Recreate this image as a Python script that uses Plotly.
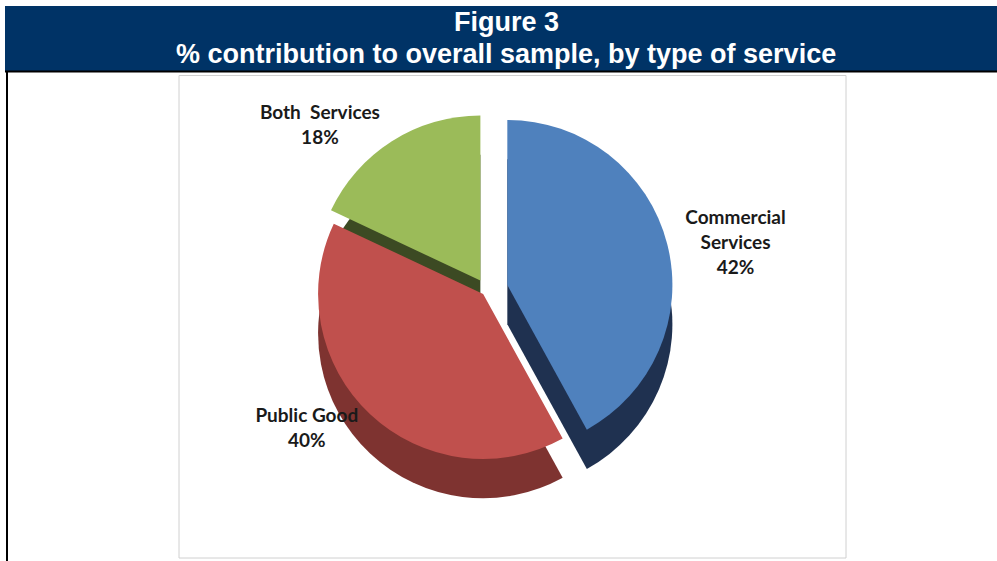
import plotly.graph_objects as go

# ---- data ----
categories = ["Commercial Services", "Public Good", "Both Services"]
label_text = ["Commercial<br>Services", "Public Good", "Both  Services"]
shares = [42, 40, 18]
top_colors = ["#4F81BD", "#C0504D", "#9BBB59"]
side_colors = ["#1F3150", "#7E3330", "#3C4A23"]
pulls = [0.13, 0.03, 0.07]

title_line1 = "Figure 3"
title_line2 = "% contribution to overall sample, by type of service"

W, H = 997, 561
depth = 0.07
dom_x = [0.188, 0.788]
dom_y = [0.15, 0.815]

fig = go.Figure()

fig.add_trace(go.Pie(
    labels=categories, values=shares, sort=False, direction="clockwise",
    rotation=0, pull=pulls, textinfo="none", hoverinfo="skip",
    marker=dict(colors=side_colors, line=dict(width=0)),
    domain=dict(x=dom_x, y=[dom_y[0] - depth, dom_y[1] - depth]),
    showlegend=False, automargin=False,
))

fig.add_trace(go.Pie(
    labels=categories, values=shares, text=label_text, sort=False,
    direction="clockwise", rotation=0, pull=pulls,
    texttemplate="%{text}<br>%{percent:.0%}", textposition="outside",
    outsidetextfont=dict(family="Lato, Open Sans, sans-serif", size=19,
                         color="#1a1a1a", weight="bold"),
    marker=dict(colors=top_colors, line=dict(width=0)),
    domain=dict(x=dom_x, y=dom_y),
    showlegend=False, automargin=False,
))

shapes = [
    dict(type="rect", xref="paper", yref="paper", x0=5 / W, x1=1,
         y0=1 - 71 / H, y1=1 - 6 / H, fillcolor="#003366", line=dict(width=0),
         layer="below"),
    dict(type="line", xref="paper", yref="paper", x0=5 / W, x1=1,
         y0=1 - 71.5 / H, y1=1 - 71.5 / H, line=dict(color="black", width=2)),
    dict(type="line", xref="paper", yref="paper", x0=7 / W, x1=7 / W,
         y0=0, y1=1 - 71 / H, line=dict(color="black", width=2)),
    dict(type="rect", xref="paper", yref="paper", x0=179 / W, x1=846 / W,
         y0=3 / H, y1=1 - 75.5 / H, line=dict(color="#D0D0D0", width=1),
         fillcolor="rgba(0,0,0,0)", layer="below"),
]

title_font = dict(family="Liberation Sans, Arial, sans-serif", size=27, color="white")
annotations = [
    dict(text="<b>" + title_line1 + "</b>", xref="paper", yref="paper",
         x=506 / W, y=1 - 22 / H, showarrow=False, xanchor="center", yanchor="middle",
         font=title_font),
    dict(text="<b>" + title_line2 + "</b>", xref="paper", yref="paper",
         x=506 / W, y=1 - 54 / H, showarrow=False, xanchor="center", yanchor="middle",
         font=title_font),
]

fig.update_layout(
    width=W, height=H, autosize=False,
    margin=dict(l=0, r=0, t=0, b=0, pad=0, autoexpand=False),
    paper_bgcolor="white", plot_bgcolor="white",
    shapes=shapes, annotations=annotations,
    showlegend=False,
)

fig.write_html("out.html", config={"responsive": False, "displayModeBar": False})
